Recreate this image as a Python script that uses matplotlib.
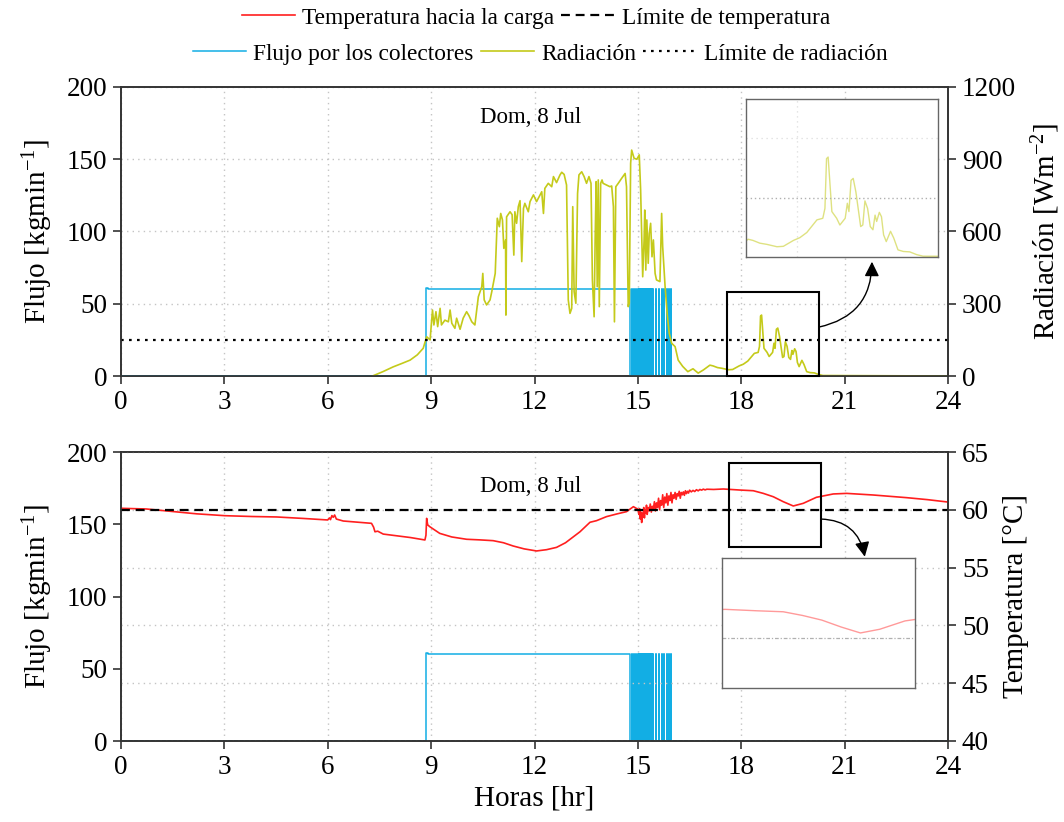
import matplotlib
matplotlib.use("Agg")
import numpy as np
import matplotlib.pyplot as plt
from matplotlib.patches import Rectangle

plt.rcParams['font.family'] = ['Liberation Serif', 'DejaVu Serif']
plt.rcParams['mathtext.fontset'] = 'custom'
plt.rcParams['mathtext.rm'] = 'Liberation Serif'
plt.rcParams['mathtext.it'] = 'Liberation Serif:italic'

# ---------------- data ----------------
# Radiation [W m-2] vs hour of day
rad_hours = [7.30, 7.60, 7.90, 8.15, 8.39, 8.60, 8.77, 8.87, 8.97, 9.04, 9.08, 9.14, 9.19, 9.26,
             9.30, 9.40, 9.50, 9.55, 9.60, 9.69, 9.74, 9.84, 9.93, 10.03, 10.10, 10.18, 10.27,
             10.37, 10.47, 10.50, 10.54, 10.61, 10.71, 10.76, 10.86, 10.92, 10.98, 11.02, 11.07,
             11.11, 11.16, 11.17, 11.19, 11.29, 11.35, 11.40, 11.43, 11.48, 11.53, 11.58, 11.63,
             11.68, 11.72, 11.82, 11.87, 11.97, 12.06, 12.21, 12.26, 12.30, 12.40, 12.50, 12.55,
             12.64, 12.74, 12.79, 12.86, 12.93, 12.98, 13.03, 13.08, 13.11, 13.15, 13.20, 13.25,
             13.29, 13.37, 13.44, 13.51, 13.58, 13.64, 13.68, 13.73, 13.76, 13.79, 13.82, 13.85,
             13.88, 13.92, 13.96, 13.99, 14.09, 14.19, 14.24, 14.29, 14.32, 14.36, 14.43, 14.53,
             14.63, 14.67, 14.72, 14.75, 14.79, 14.82, 14.89, 14.97, 15.04, 15.08, 15.14, 15.18,
             15.20, 15.23, 15.26, 15.30, 15.33, 15.37, 15.41, 15.45, 15.50, 15.54, 15.64, 15.69,
             15.72, 15.79, 15.85, 15.91, 15.98, 16.08, 16.17, 16.30, 16.45, 16.60, 16.75, 16.90,
             17.09, 17.18, 17.31, 17.44, 17.63, 17.75, 17.94, 18.06, 18.19, 18.38, 18.49, 18.53,
             18.56, 18.59, 18.63, 18.66, 18.75, 18.81, 18.91, 18.95, 18.98, 19.02, 19.06, 19.11,
             19.16, 19.20, 19.24, 19.28, 19.33, 19.38, 19.43, 19.47, 19.50, 19.55, 19.59, 19.63,
             19.68, 19.76, 19.82, 19.90, 20.00, 20.12, 20.25, 20.37, 24.00]
rad_values = [0, 18, 38, 52, 66, 88, 115, 163, 150, 274, 212, 267, 205, 281,
              212, 232, 225, 274, 219, 198, 240, 194, 240, 267, 250, 225, 212,
              329, 371, 426, 316, 295, 316, 350, 426, 655, 620, 675, 648,
              530, 565, 253, 661, 682, 670, 502, 682, 634, 703, 728, 475,
              696, 717, 682, 724, 752, 724, 765, 675, 779, 800, 786, 828,
              803, 835, 846, 837, 793, 316, 260, 281, 703, 350, 302, 758,
              835, 848, 828, 800, 828, 800, 399, 246, 565, 807, 371, 814,
              288, 800, 814, 800, 793, 786, 789, 703, 225, 786, 800, 821,
              841, 786, 288, 302, 883, 938, 904, 900, 918, 772, 412, 565,
              689, 440, 648, 468, 592, 634, 495, 565, 426, 399, 392, 675,
              537, 371, 260, 177, 136, 122, 66, 40, 18, 30, 12, 25,
              45, 42, 35, 32, 26, 27, 42, 49, 62, 94, 98, 123,
              249, 253, 174, 115, 98, 81, 98, 136, 115, 194, 199, 165,
              115, 77, 81, 142, 123, 77, 69, 106, 90, 113, 102, 56,
              39, 65, 48, 18, 14, 13, 6, 2, 0]

# Temperature towards the load [°C]
temp_hours = [0.00, 0.40, 0.74, 1.50, 2.20, 3.02, 3.80, 4.52, 5.30, 6.00, 6.05, 6.08, 6.12, 6.16,
              6.20, 6.25, 6.45, 7.00, 7.27, 7.33, 7.37, 7.45, 7.61, 8.00, 8.40, 8.82, 8.85, 8.87,
              8.90, 8.96, 9.25, 9.60, 10.03, 10.40, 10.80, 11.10, 11.38, 11.70, 12.06, 12.35,
              12.64, 12.90, 13.13, 13.32, 13.61, 13.80, 14.09, 14.40, 14.67, 14.87,
              15.00, 15.03, 15.05, 15.07, 15.09, 15.11, 15.13, 15.15, 15.17, 15.19, 15.21, 15.23,
              15.25, 15.27, 15.30, 15.33, 15.36, 15.39, 15.42, 15.45, 15.48, 15.51, 15.54, 15.57,
              15.60, 15.63, 15.66, 15.69, 15.72, 15.75, 15.78, 15.81, 15.84, 15.87, 15.90, 15.93,
              15.96, 15.99, 16.02, 16.05, 16.08, 16.11, 16.14, 16.17, 16.20, 16.23, 16.26, 16.29,
              16.32, 16.35, 16.38, 16.41, 16.44, 16.47, 16.50, 16.55, 16.60, 16.65, 16.70, 16.75,
              16.80, 16.85, 16.90, 16.95, 17.00, 17.20, 17.48, 17.96, 18.35, 18.64, 18.93, 19.22,
              19.51, 19.80, 20.18, 20.67, 21.06, 21.83, 22.80, 23.40, 24.00]
temp_values = [60.13, 60.10, 60.07, 59.85, 59.65, 59.49, 59.42, 59.38, 59.25, 59.12, 59.30, 59.15,
               59.50, 59.35, 59.55, 59.20, 59.03, 58.90, 58.83, 58.50, 58.10, 58.15, 57.90, 57.75,
               57.60, 57.39, 57.80, 59.26, 58.70, 58.54, 57.96, 57.65, 57.45, 57.40, 57.33, 57.15,
               56.87, 56.62, 56.44, 56.55, 56.75, 57.15, 57.67, 58.10, 58.92, 59.06, 59.41, 59.65,
               59.84, 60.27,
               60.05, 59.6, 60.1, 59.2, 59.8, 58.9, 59.7, 59.4, 60.2, 59.3, 60.0, 59.7,
               60.4, 59.6, 60.2, 59.9, 60.5, 59.8, 60.3, 60.1, 60.7, 59.9, 60.6, 60.2,
               61.0, 60.0, 60.8, 60.4, 61.3, 60.2, 61.1, 60.6, 61.4, 60.4, 61.2, 60.8,
               61.5, 60.6, 61.3, 61.0, 61.5, 60.9, 61.4, 61.2, 61.6, 61.0, 61.5, 61.3,
               61.55, 61.25, 61.65, 61.4, 61.6, 61.45, 61.7, 61.55, 61.68, 61.58, 61.74, 61.64,
               61.76, 61.7, 61.79, 61.72, 61.78, 61.76, 61.80, 61.71, 61.65, 61.42, 61.13, 60.70,
               60.33, 60.56, 61.08, 61.37, 61.42, 61.28, 61.05, 60.88, 60.67]

# Collector flow [kg/min]: steady section, then on/off cycling
flow_hours = [0.0, 8.84, 8.85, 8.92, 9.50, 11.00, 12.50, 14.00, 14.76]
flow_values = [0, 0, 61.2, 60.4, 60.2, 60.0, 60.1, 60.0, 60.0]
pulse_hours = [14.82, 14.89, 14.94, 14.99, 15.02, 15.035, 15.05, 15.065, 15.08, 15.095, 15.11,
               15.125, 15.14, 15.155, 15.17, 15.185, 15.20, 15.215, 15.23, 15.245, 15.26, 15.275,
               15.29, 15.305, 15.32, 15.335, 15.35, 15.365, 15.38, 15.395, 15.41, 15.425, 15.44,
               15.54, 15.61, 15.69, 15.76, 15.84, 15.90, 15.96]
flow_level = 60.0

temp_limit = 60.0
rad_limit = 150.0

hour_ticks = [0, 3, 6, 9, 12, 15, 18, 21, 24]
day_label = "Dom, 8 Jul"

# ---------------- build step series ----------------
fh = list(flow_hours) + [flow_hours[-1] + 0.01]
fv = list(flow_values) + [0.0]
for p in pulse_hours:
    fh += [p, p]
    fv += [flow_level, 0.0]
fh.append(24.0)
fv.append(0.0)

RED = '#ff1f1f'
CYAN = '#12aee4'
RADC = '#c4ca1a'
GRID = '#c4c4c4'
SPINE = '#333333'

W, H = 1064, 822
fig = plt.figure(figsize=(W / 100, H / 100), dpi=100)


def box(l, t, r, b):
    return [l / W, 1 - b / H, (r - l) / W, (b - t) / H]


ax1 = fig.add_axes(box(121, 87, 948, 376))
ax2 = fig.add_axes(box(121, 452, 948, 741))
ax1r = ax1.twinx()
ax2r = ax2.twinx()

for a in (ax1, ax2, ax1r, ax2r):
    for s in a.spines.values():
        s.set_linewidth(1.2)
        s.set_color(SPINE)
    a.tick_params(direction='out', length=6, width=1.2, labelsize=19.5, color=SPINE, pad=4)

# ---- top panel: flow + radiation ----
ax1.step(fh, fv, where='post', color=CYAN, lw=1.1, zorder=3)
rad_line, = ax1r.plot(rad_hours, rad_values, color=RADC, lw=1.2, label='Radiación')
rad_lim = ax1r.axhline(rad_limit, color='black', lw=1.6, ls=(0, (1.2, 2.4)),
                       label='Límite de radiación')
ax1.set_xlim(0, 24)
ax1.set_ylim(0, 200)
ax1r.set_ylim(0, 1200)
ax1.set_xticks(hour_ticks)
ax1.set_yticks([0, 50, 100, 150, 200])
ax1r.set_yticks([0, 300, 600, 900, 1200])
ax1.grid(True, ls=(0, (1, 3)), color=GRID, lw=1)
ax1.set_ylabel('Flujo [kgmin$^{\\mathregular{-1}}$]', fontsize=21, labelpad=8)
ax1r.set_ylabel('Radiación [Wm$^{\\mathregular{-2}}$]', fontsize=21, labelpad=10)
ax1.text(0.495, 0.893, day_label, transform=ax1.transAxes, ha='center', va='center', fontsize=16.5)

ax1r.add_patch(Rectangle((17.6, 0), 2.65, 349, fill=False, ec='black', lw=1.5, zorder=4,
                         clip_on=False))

# ---- bottom panel: flow + temperature ----
flow_line, = ax2.step(fh, fv, where='post', color=CYAN, lw=1.1, label='Flujo por los colectores')
temp_line, = ax2r.plot(temp_hours, temp_values, color=RED, lw=1.2,
                       label='Temperatura hacia la carga')
temp_lim = ax2r.axhline(temp_limit, color='black', lw=1.6, ls=(0, (4, 2.6)),
                        label='Límite de temperatura')
ax2.set_xlim(0, 24)
ax2.set_ylim(0, 200)
ax2r.set_ylim(40, 65)
ax2.set_xticks(hour_ticks)
ax2.set_yticks([0, 50, 100, 150, 200])
ax2r.set_yticks([40, 45, 50, 55, 60, 65])
ax2.grid(True, axis='x', ls=(0, (1, 3)), color=GRID, lw=1)
ax2r.grid(True, axis='y', ls=(0, (1, 3)), color=GRID, lw=1)
ax2r.set_axisbelow(True)
ax2.set_ylabel('Flujo [kgmin$^{\\mathregular{-1}}$]', fontsize=21, labelpad=8)
ax2r.set_ylabel('Temperatura [°C]', fontsize=21, labelpad=10)
ax2.set_xlabel('Horas [hr]', fontsize=21, labelpad=4)
ax2.text(0.495, 0.882, day_label, transform=ax2.transAxes, ha='center', va='center', fontsize=16.5)

ax2r.add_patch(Rectangle((17.64, 56.8), 2.67, 7.25, fill=False, ec='black', lw=1.5, zorder=4,
                         clip_on=False))

# ---- zoomed insets ----
ins1 = fig.add_axes(box(746, 99, 938, 257), zorder=6)
ins1.plot(rad_hours, rad_values, color=RADC, lw=1.0, alpha=0.55)
ins1.axhline(rad_limit, color='#b0b0b0', lw=1.0, ls=(0, (1, 2)))
ins1.set_xlim(17.05, 20.65)
ins1.set_ylim(0, 400)
ins1.set_xticks([18])
ins1.set_yticks([300])
ins1.grid(True, ls=(0, (1, 3)), color='#dddddd', lw=0.9)
ins1.tick_params(length=0, labelbottom=False, labelleft=False)
for s in ins1.spines.values():
    s.set_color('#666666')
    s.set_linewidth(1.0)

ins2 = fig.add_axes(box(722, 558, 915, 688), zorder=6)
ins2.plot(temp_hours, temp_values, color=RED, lw=1.0, alpha=0.45)
ins2.axhline(temp_limit, color='#b0b0b0', lw=0.9, ls=(0, (3, 1.5, 1, 1.5)))
ins2.set_xlim(17.43, 20.33)
ins2.set_ylim(56.9, 65.0)
ins2.set_xticks([])
ins2.set_yticks([])
for s in ins2.spines.values():
    s.set_color('#666666')
    s.set_linewidth(1.0)

# ---- connector arrows ----
arrow_kw = dict(arrowstyle='-|>', color='black', lw=1.0, mutation_scale=22,
                shrinkA=0, shrinkB=0)
ax1r.annotate('', xy=(0.656, -0.03), xycoords=ins1, xytext=(20.25, 203), textcoords='data',
              arrowprops=dict(connectionstyle='arc3,rad=0.4', **arrow_kw), zorder=7)
ax2r.annotate('', xy=(0.74, 1.01), xycoords=ins2, xytext=(20.31, 59.2), textcoords='data',
              arrowprops=dict(connectionstyle='arc3,rad=-0.4', **arrow_kw), zorder=7)

# ---- legends ----
leg_kw = dict(loc='center', frameon=False, fontsize=16.8, handlelength=2.3, handletextpad=0.3,
              columnspacing=0.3, borderaxespad=0, borderpad=0)
fig.legend([temp_line, temp_lim], ['Temperatura hacia la carga', 'Límite de temperatura'],
           ncol=2, bbox_to_anchor=(536 / W, 1 - 18 / H), **leg_kw)
fig.legend([flow_line, rad_line, rad_lim],
           ['Flujo por los colectores', 'Radiación', 'Límite de radiación'],
           ncol=3, bbox_to_anchor=(540 / W, 1 - 54 / H), **leg_kw)

fig.savefig('out.png', dpi=100)
